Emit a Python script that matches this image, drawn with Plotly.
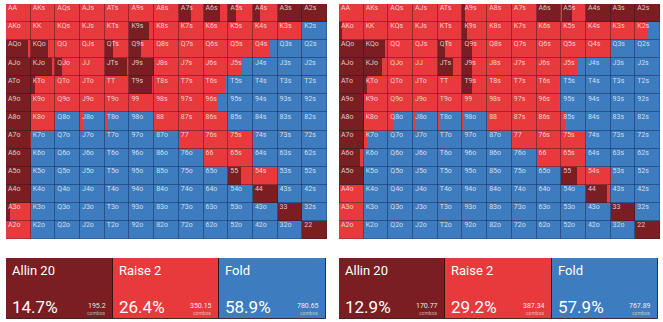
import plotly.graph_objects as go

RANKS = ["A", "K", "Q", "J", "T", "9", "8", "7", "6", "5", "4", "3", "2"]
ACTIONS = ["Allin 20", "Raise 2", "Fold"]
COLORS = ["#7b1e21", "#e8393c", "#3d7cbf"]

# fraction of each hand that goes all-in / raises (fold = remainder); rows & cols follow RANKS
LEFT_ALLIN = [
    [0, 0, 0, 0, 0, 0, 0, 0.5, 0.65, 0.3, 0.3, 1, 1],
    [0, 0, 0, 0, 0, 0.8, 0, 0, 0, 0, 0, 0, 0],
    [0.9, 0.7, 0, 0, 0.35, 0.45, 0, 0, 0, 0, 0, 0, 0],
    [1, 0.85, 0.25, 0, 0.9, 1, 0, 0, 0, 0, 0, 0, 0],
    [1, 0.18, 0, 0, 0, 0.95, 0, 0, 0, 0, 0, 0, 0],
    [1, 0, 0, 0, 0, 0, 0, 0, 0, 0, 0, 0, 0],
    [1, 0, 0, 0, 0, 0, 0, 0, 0, 0, 0, 0, 0],
    [1, 0, 0, 0, 0, 0, 0, 0, 0, 0, 0, 0, 0],
    [1, 0, 0, 0, 0, 0, 0, 0, 0, 0, 0, 0, 0],
    [1, 0, 0, 0, 0, 0, 0, 0, 0, 0.5, 0, 0, 0],
    [1, 0, 0, 0, 0, 0, 0, 0, 0, 0, 1, 0, 0],
    [0.15, 0, 0, 0, 0, 0, 0, 0, 0, 0, 0, 1, 0],
    [0, 0, 0, 0, 0, 0, 0, 0, 0, 0, 0, 0, 1],
]
LEFT_RAISE = [
    [1, 1, 1, 1, 1, 1, 1, 0.5, 0.35, 0.7, 0.7, 0, 0],
    [1, 1, 1, 1, 1, 0.2, 1, 1, 1, 1, 1, 1, 0],
    [0.1, 0.3, 1, 1, 0.65, 0.55, 1, 1, 1, 1, 0.7, 0, 0],
    [0, 0.15, 0.75, 1, 0.1, 0, 1, 1, 1, 0.57, 0, 0, 0],
    [0, 0.82, 1, 1, 1, 0.05, 1, 1, 0.85, 0, 0, 0, 0],
    [0, 1, 1, 1, 1, 1, 1, 1, 0.57, 0, 0, 0, 0],
    [0, 1, 0, 0.12, 0.08, 0, 1, 1, 1, 0, 0, 0, 0],
    [0, 0.04, 0, 0, 0, 0, 0, 1, 1, 1, 0, 0, 0],
    [0, 0, 0, 0, 0, 0, 0, 0, 1, 1, 0, 0, 0],
    [0, 0, 0, 0, 0, 0, 0, 0, 0, 0.5, 1, 0, 0],
    [0, 0, 0, 0, 0, 0, 0, 0, 0, 0, 0, 0, 0],
    [0.85, 0, 0, 0, 0, 0, 0, 0, 0, 0, 0, 0, 0],
    [1, 0, 0, 0, 0, 0, 0, 0, 0, 0, 0, 0, 0],
]
RIGHT_ALLIN = [
    [0, 0, 0, 0, 0, 0.1, 0, 0, 0.95, 0.45, 1, 1, 1],
    [0.12, 0, 0, 0, 0, 0.2, 0, 0, 0, 0, 0, 0, 0],
    [1, 0.85, 0, 0, 0.3, 0.4, 0, 0, 0, 0, 0, 0, 0],
    [1, 0.75, 0, 0, 0.6, 0.4, 0, 0, 0, 0, 0, 0, 0],
    [1, 0.15, 0, 0, 0, 0.4, 0, 0, 0, 0, 0, 0, 0],
    [1, 0, 0, 0, 0, 0, 0, 0, 0, 0, 0, 0, 0],
    [1, 0, 0, 0, 0, 0, 0, 0, 0, 0, 0, 0, 0],
    [1, 0, 0, 0, 0, 0, 0, 0, 0, 0, 0, 0, 0],
    [0.85, 0, 0, 0, 0, 0, 0, 0, 0, 0, 0, 0, 0],
    [1, 0, 0, 0, 0, 0, 0, 0, 0, 0.63, 0, 0, 0],
    [0.05, 0, 0, 0, 0, 0, 0, 0, 0, 0, 0.85, 0, 0],
    [0, 0, 0, 0, 0, 0, 0, 0, 0, 0, 0, 1, 0],
    [0, 0, 0, 0, 0, 0, 0, 0, 0, 0, 0, 0, 1],
]
RIGHT_RAISE = [
    [1, 1, 1, 1, 1, 0.9, 1, 1, 0.05, 0.55, 0, 0, 0],
    [0.88, 1, 1, 1, 1, 0.8, 1, 1, 1, 1, 1, 1, 0.5],
    [0, 0.15, 1, 1, 0.7, 0.6, 1, 1, 1, 1, 1, 0, 0],
    [0, 0.25, 1, 1, 0.4, 0.6, 1, 1, 1, 0.65, 0, 0, 0],
    [0, 0.85, 1, 1, 1, 0.6, 1, 1, 0.9, 0, 0, 0, 0],
    [0, 1, 1, 1, 1, 1, 1, 1, 0.9, 0, 0, 0, 0],
    [0, 1, 0.2, 0.08, 0.05, 0.05, 1, 1, 1, 0.15, 0, 0, 0],
    [0, 0.15, 0, 0, 0, 0, 0, 1, 1, 1, 0, 0, 0],
    [0.15, 0, 0, 0, 0, 0, 0, 0, 1, 1, 0, 0, 0],
    [0, 0, 0, 0, 0, 0, 0, 0, 0, 0.37, 1, 0, 0],
    [0.95, 0, 0, 0, 0, 0, 0, 0, 0, 0, 0.1, 0, 0],
    [1, 0, 0, 0, 0, 0, 0, 0, 0, 0, 0, 0, 0],
    [1, 0, 0, 0, 0, 0, 0, 0, 0, 0, 0, 0, 0],
]

LEFT_PCT = ["14.7%", "26.4%", "58.9%"]
LEFT_COMBOS = ["195.2", "350.15", "780.65"]
RIGHT_PCT = ["12.9%", "29.2%", "57.9%"]
RIGHT_COMBOS = ["170.77", "387.34", "767.89"]

FONT = "Roboto"
W, H = 663, 322


def hand(i, j):
    if i == j:
        return RANKS[i] + RANKS[j]
    if j > i:
        return RANKS[i] + RANKS[j] + "s"
    return RANKS[j] + RANKS[i] + "o"


fig = go.Figure()


def add_grid(allin, raise_, xa, ya):
    ys, bases, widths = [[], [], []], [[], [], []], [[], [], []]
    for i in range(13):
        for j in range(13):
            a = allin[i][j]
            r = raise_[i][j]
            f = max(0.0, 1 - a - r)
            cum = 0.0
            for k, v in enumerate([a, r, f]):
                if v > 0.001:
                    ys[k].append(i + 0.5)
                    bases[k].append(j + cum)
                    widths[k].append(v)
                cum += v
    for k in range(3):
        fig.add_trace(go.Bar(orientation="h", y=ys[k], x=widths[k], base=bases[k], width=1,
                             marker=dict(color=COLORS[k], line=dict(width=0)),
                             xaxis=xa, yaxis=ya, showlegend=False, hoverinfo="skip"))
    cy = [i + 0.5 for i in range(13) for j in range(13)]
    cb = [j for i in range(13) for j in range(13)]
    fig.add_trace(go.Bar(orientation="h", y=cy, x=[1] * len(cy), base=cb, width=1,
                         marker=dict(color="rgba(0,0,0,0)", line=dict(width=1, color="rgba(20,20,50,0.22)")),
                         xaxis=xa, yaxis=ya, showlegend=False, hoverinfo="skip"))
    tx = [j + 0.08 for i in range(13) for j in range(13)]
    ty = [i + 0.06 for i in range(13) for j in range(13)]
    tt = [hand(i, j) for i in range(13) for j in range(13)]
    fig.add_trace(go.Scatter(x=tx, y=ty, text=tt, mode="text", textposition="bottom right",
                             textfont=dict(size=7, color="rgba(255,255,255,0.75)", family=FONT),
                             xaxis=xa, yaxis=ya, showlegend=False, hoverinfo="skip"))


def add_panel(pcts, combos, xa, ya):
    fig.add_trace(go.Bar(orientation="h", y=[0, 0, 0], x=[1, 1, 1], base=[0, 1, 2], width=1,
                         marker=dict(color=COLORS, line=dict(width=1, color="rgba(30,10,10,0.8)")),
                         xaxis=xa, yaxis=ya, showlegend=False, hoverinfo="skip"))
    yref = ya + " domain"
    for k in range(3):
        fig.add_annotation(x=k, y=1, xref=xa, yref=yref, text=ACTIONS[k], showarrow=False,
                           xanchor="left", yanchor="top", xshift=4, yshift=-3,
                           font=dict(size=13, color="white", family=FONT))
        fig.add_annotation(x=k, y=0, xref=xa, yref=yref, text=pcts[k], showarrow=False,
                           xanchor="left", yanchor="bottom", xshift=4, yshift=0,
                           font=dict(size=17, color="white", family=FONT))
        fig.add_annotation(x=k + 1, y=0, xref=xa, yref=yref, text=combos[k], showarrow=False,
                           xanchor="right", yanchor="bottom", xshift=-5, yshift=7,
                           font=dict(size=7, color="rgba(255,255,255,0.9)", family=FONT))
        fig.add_annotation(x=k + 1, y=0, xref=xa, yref=yref, text="combos", showarrow=False,
                           xanchor="right", yanchor="bottom", xshift=-5, yshift=1,
                           font=dict(size=5, color="rgba(255,255,255,0.6)", family=FONT))


add_grid(LEFT_ALLIN, LEFT_RAISE, "x", "y")
add_grid(RIGHT_ALLIN, RIGHT_RAISE, "x2", "y2")
add_panel(LEFT_PCT, LEFT_COMBOS, "x3", "y3")
add_panel(RIGHT_PCT, RIGHT_COMBOS, "x4", "y4")

ax = dict(showgrid=False, zeroline=False, showticklabels=False, showline=False, fixedrange=True)
gy = (1 - 239 / H, 1 - 4 / H)
py = (1 - 319 / H, 1 - 258 / H)
fig.update_layout(
    width=W, height=H, margin=dict(l=0, r=0, t=0, b=0),
    paper_bgcolor="white", plot_bgcolor="white",
    barmode="overlay", bargap=0,
    xaxis=dict(domain=[6 / W, 327 / W], range=[0, 13], **ax),
    yaxis=dict(domain=list(gy), range=[13, 0], **ax),
    xaxis2=dict(domain=[339 / W, 660 / W], range=[0, 13], anchor="y2", **ax),
    yaxis2=dict(domain=list(gy), range=[13, 0], anchor="x2", **ax),
    xaxis3=dict(domain=[6 / W, 326 / W], range=[0, 3], anchor="y3", **ax),
    yaxis3=dict(domain=list(py), range=[-0.5, 0.5], anchor="x3", **ax),
    xaxis4=dict(domain=[339 / W, 658 / W], range=[0, 3], anchor="y4", **ax),
    yaxis4=dict(domain=list(py), range=[-0.5, 0.5], anchor="x4", **ax),
    font=dict(family=FONT),
)

fig.write_html("out.html")
